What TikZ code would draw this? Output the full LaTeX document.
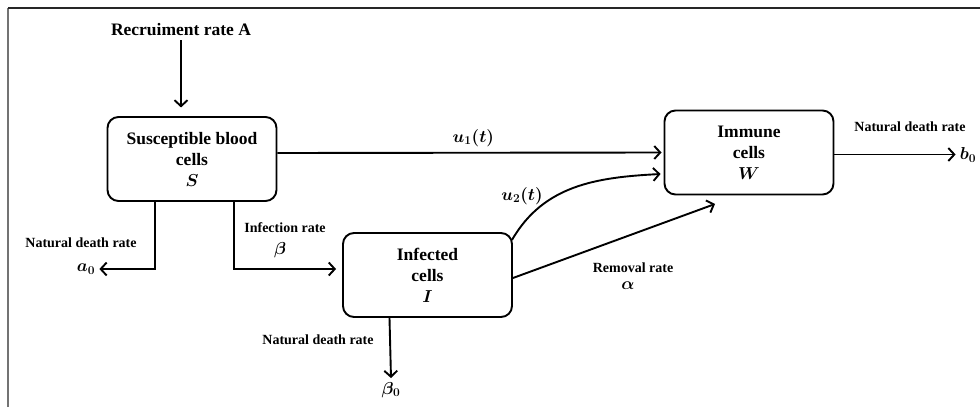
\documentclass[tikz,border=0pt]{standalone}
\usepackage{fontspec}
\setmainfont{Liberation Serif}
\usetikzlibrary{arrows.meta}

\begin{document}
\begin{tikzpicture}[x=1pt, y=-1pt, line width=1.9pt,
  box/.style={draw, rounded corners=11pt, minimum width=169pt, minimum height=84pt, align=center, font=\fontsize{17.5}{21}\selectfont\bfseries\boldmath},
  lbl/.style={font=\fontsize{14}{16}\selectfont\bfseries\boldmath},
  big/.style={font=\fontsize{17.5}{20}\selectfont\bfseries\boldmath},
  flow/.style={-{Straight Barb[length=6pt,width=13pt]}}]
\useasboundingbox (0,0) rectangle (980,407);
\draw[line width=1.2pt, black!55] (8,407) -- (8,8);
\draw[line width=1.2pt, black!85] (8,8) -- (980,8);

% compartments
\node[box] (S) at (192,159) {Susceptible blood\\cells\\$S$};
\node[box] (I) at (427.5,275) {Infected\\cells\\$I$};
\node[box] (W) at (749,152.5) {Immune\\cells\\$W$};

% inflow and outflows
\node[big] (rec) at (181,30) {Recruiment rate A};
\node[big] (a0) at (86,269) {$a_0$};
\node[big] (b0) at (968,155) {$b_0$};
\node[big] (beta0) at (391,390) {$\beta_0$};
\coordinate (Wlow) at (715,204);

\draw[flow] (rec.south) -- ++(0,67);
\draw[flow] ([yshift=6]S.east) -- node[pos=0.51, above=2pt, big] {$u_1(t)$} ([xshift=-2]W.west);
\draw[flow] ([xshift=-37]S.south) |- (a0.east);
\draw[flow] ([xshift=42]S.south) |- ([xshift=-6,yshift=6]I.west);
\draw[flow] ([xshift=-38]I.south) -- (beta0.north);
\draw[flow] ([xshift=-1,yshift=35]I.east) to[out=60,in=183] ([xshift=-3,yshift=-21.5]W.west);
\node[big] (u2) at (522,196) {$u_2(t)$};
\draw[flow] ([yshift=-3]I.east) -- (Wlow);
\draw[flow] ([yshift=-2]W.east) -- ([yshift=-2]W.east -| b0.west);

% rate labels
\node[lbl] at (81,243) {Natural death rate};
\node[lbl] at (285,228) {Infection rate};
\node[big] at (280,250) {$\beta$};
\node[lbl] at (318,340) {Natural death rate};
\node[lbl] at (633,268) {Removal rate};
\node[big] at (628,286) {$\alpha$};
\node[lbl] at (910,127) {Natural death rate};
\end{tikzpicture}
\end{document}
